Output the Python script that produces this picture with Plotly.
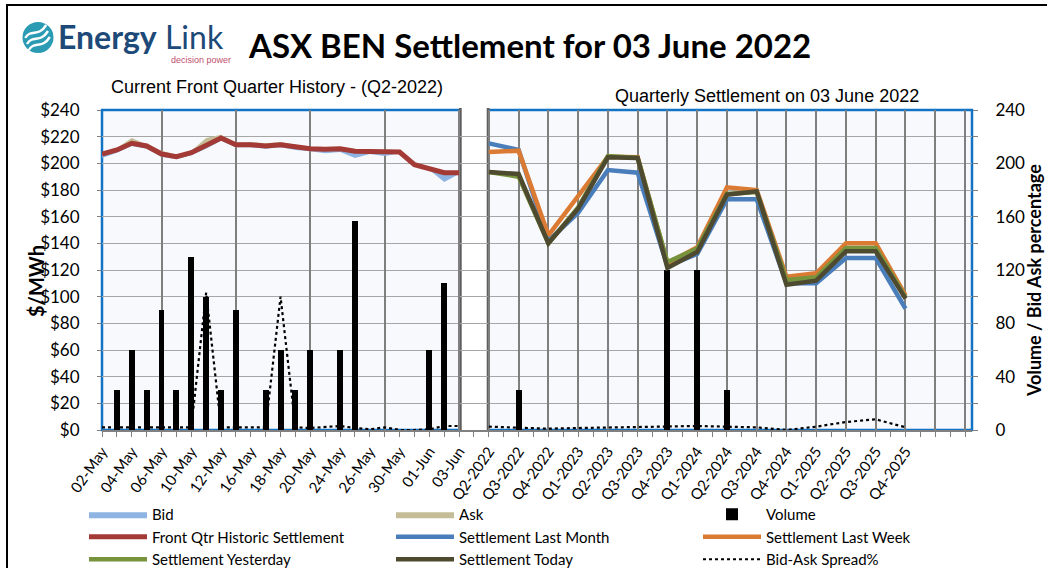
import plotly.graph_objects as go

# ---------------- data ----------------
day_labels = ['02-May', '03-May', '04-May', '05-May', '06-May', '09-May', '10-May', '11-May',
              '12-May', '13-May', '16-May', '17-May', '18-May', '19-May', '20-May', '23-May',
              '24-May', '25-May', '26-May', '27-May', '30-May', '31-May', '01-Jun', '02-Jun', '03-Jun']
quarter_labels = ['Q2-2022', 'Q3-2022', 'Q4-2022', 'Q1-2023', 'Q2-2023', 'Q3-2023', 'Q4-2023',
                  'Q1-2024', 'Q2-2024', 'Q3-2024', 'Q4-2024', 'Q1-2025', 'Q2-2025', 'Q3-2025', 'Q4-2025']

front_qtr_settlement = [207, 210, 215, 213, 207, 205, 208, 213, 219, 214, 214, 213, 214, 212.5,
                        211, 210.5, 211, 209, 209, 208.5, 208.5, 199, 196, 193, 193]
bid = [204, 208, 213, 211, 205, 203, 206, 211, 217, 212, 212, 211, 212, 210,
       209, 207.5, 208.5, 204, 207, 205.5, 207.5, 198, 195, 186, 192]
ask = [208.5, 211.5, 219, 214.5, 209.5, 206.5, 209.5, 219, 221.5, 215.5, 216, 215, 216, 214,
       212, 211.5, 212.5, 210, 210, 209.5, 209, 200, 197, 194, 194]
volume_daily = [0, 30, 60, 30, 90, 30, 130, 100, 30, 90, 0, 30, 60, 30,
                60, 0, 60, 157, 0, 0, 0, 0, 60, 110, 0]
spread_daily = [2, 2, 2, 2, 2, 2, 2, 103, 2, 2, 2, 2, 100, 2,
                1.5, 2.5, 3, 1.5, 0.5, 2, 0, 0, 0.5, 3, 3]

settle_last_month = [215, 210, 142, 163, 195, 193, 123, 132, 173, 173, 110, 110, 129, 129, 91]
settle_last_week = [208.5, 209.5, 146, 176, 205, 204.5, 125, 137, 182, 180, 115, 117.5, 140, 140, 101]
settle_yesterday = [193.5, 190, 140, 167, 205.5, 204, 126, 136, 177, 178.5, 112.5, 114.5, 136.5, 136.5, 99.5]
settle_today = [193.5, 192, 140, 166, 204.5, 204, 121.5, 133.5, 176.5, 179, 109, 112, 134, 134, 98.5]
volume_quarterly = [0, 30, 0, 0, 0, 0, 120, 120, 30, 0, 0, 0, 0, 0, 0]
spread_quarterly = [2.5, 2, 1, 1.5, 2, 2, 2.5, 3, 2.5, 2, 0, 2.5, 6, 8, 2]

# ---------------- category positions ----------------
n_days = len(day_labels)
day_x = list(range(n_days))
q_start = n_days + 1
q_x = [q_start + 2 * k for k in range(len(quarter_labels))]
x_last = q_x[-1] + 4
x_range = [0, x_last + 0.47]

tickvals = list(range(0, x_last + 1))
ticktext = []
for v in tickvals:
    if v < n_days and v % 2 == 0:
        ticktext.append(day_labels[v])
    elif v in q_x:
        ticktext.append(quarter_labels[q_x.index(v)])
    else:
        ticktext.append('')
grid_x = [4, 9, 14, 19, 24] + list(range(q_start, x_last + 1, 2))

FONT = 'Lato, Carlito, "Open Sans", sans-serif'

fig = go.Figure()

# Bid / Ask bands around the front quarter settlement
fig.add_trace(go.Scatter(x=day_x, y=front_qtr_settlement, mode='lines', line=dict(width=0),
                         showlegend=False, hoverinfo='skip'))
fig.add_trace(go.Scatter(x=day_x, y=bid, mode='lines', line=dict(width=0), fill='tonexty',
                         fillcolor='#8DB4E2', name='Bid', legendrank=1))
fig.add_trace(go.Scatter(x=day_x, y=front_qtr_settlement, mode='lines', line=dict(width=0),
                         showlegend=False, hoverinfo='skip'))
fig.add_trace(go.Scatter(x=day_x, y=ask, mode='lines', line=dict(width=0), fill='tonexty',
                         fillcolor='#C4BD97', name='Ask', legendrank=2))
fig.add_trace(go.Scatter(x=day_x, y=front_qtr_settlement, mode='lines',
                         line=dict(color='#A33A35', width=5),
                         name='Front Qtr Historic Settlement', legendrank=4))

# Volume bars (secondary axis)
fig.add_trace(go.Bar(x=day_x + q_x, y=volume_daily + volume_quarterly, yaxis='y2',
                     marker=dict(color='black', line=dict(width=0)), width=0.4,
                     name='Volume', legendrank=3))

# Quarterly settlements
for series, name, color, rank in [
    (settle_last_month, 'Settlement Last Month', '#4A7EBB', 5),
    (settle_last_week, 'Settlement Last Week', '#DB7A33', 6),
    (settle_yesterday, 'Settlement Yesterday', '#77933C', 7),
    (settle_today, 'Settlement Today', '#4D4A2F', 8),
]:
    fig.add_trace(go.Scatter(x=q_x, y=series, mode='lines', xaxis='x2',
                             line=dict(color=color, width=4.5), name=name, legendrank=rank))

# Bid-Ask spread %
fig.add_trace(go.Scatter(x=day_x + [n_days] + q_x, y=spread_daily + [None] + spread_quarterly,
                         yaxis='y2', mode='lines', line=dict(color='black', width=2.2, dash='dot'),
                         name='Bid-Ask Spread%', legendrank=9))

# ---------------- decorations (pixel -> paper helpers) ----------------
L, T, W, H = 102, 110, 870, 320


def px(x):
    return (x - L) / W


def py(y):
    return (T + H - y) / H


shapes = []
# outer frame
shapes.append(dict(type='rect', xref='paper', yref='paper', x0=px(7), x1=px(1070),
                   y0=py(5), y1=py(590), line=dict(color='black', width=2), layer='below'))
# plot border
shapes.append(dict(type='rect', xref='paper', yref='paper', x0=0, x1=1, y0=0, y1=1,
                   line=dict(color='#1273C4', width=2.5), layer='between'))
# white separator between daily and quarterly sections
shapes.append(dict(type='rect', xref='x', yref='paper', x0=n_days - 1 + 0.1, x1=q_start - 0.1,
                   y0=-0.004, y1=py(107.5), fillcolor='white', line=dict(width=0), layer='between'))
for gx in (n_days - 1, q_start):
    shapes.append(dict(type='line', xref='x', yref='paper', x0=gx + (0.08 if gx < q_start else -0.05),
                       x1=gx + (0.08 if gx < q_start else -0.05), y0=0, y1=py(108),
                       line=dict(color='#5E5E5E', width=2.8), layer='between'))
# logo circle
shapes.append(dict(type='circle', xref='paper', yref='paper', x0=px(22.5), x1=px(53.5),
                   y0=py(53), y1=py(22), fillcolor='#2A9BB3', line=dict(width=0), layer='above'))


def wave(pts):
    (x0, y0), (c1x, c1y), (c2x, c2y), (x1, y1) = pts
    return 'M{},{} C{},{} {},{} {},{}'.format(px(x0), py(y0), px(c1x), py(c1y),
                                              px(c2x), py(c2y), px(x1), py(y1))


for off in (-6, 0, 6):
    shapes.append(dict(type='path', xref='paper', yref='paper',
                       path=wave([(27 + off * 0.3, 44 + off), (33 + off * 0.3, 34 + off),
                                  (40 + off * 0.3, 44 + off), (48 + off * 0.3, 31 + off)]),
                       line=dict(color='white', width=2.4), layer='above'))

annotations = [
    dict(text='<b>Energy</b> Link', x=px(56), y=py(36), xanchor='left', yanchor='middle',
         font=dict(family=FONT, size=32, color='#1D4A78')),
    dict(text='decision power', x=px(233), y=py(60), xanchor='right', yanchor='middle',
         font=dict(family='"Liberation Sans Narrow", "Liberation Sans", sans-serif', size=9, color='#C0506F')),
    dict(text='<b>ASX BEN Settlement for 03 June 2022</b>', x=px(246), y=py(45),
         xanchor='left', yanchor='middle', font=dict(family=FONT, size=33, color='black')),
    dict(text='Current Front Quarter History - (Q2-2022)', x=px(277), y=py(87),
         xanchor='center', yanchor='middle',
         font=dict(family='"Liberation Sans", Arial, sans-serif', size=18, color='black')),
    dict(text='Quarterly Settlement on 03 June 2022', x=px(767), y=py(96),
         xanchor='center', yanchor='middle',
         font=dict(family='"Liberation Sans", Arial, sans-serif', size=18, color='black')),
    dict(text='<b>$/MWh</b>', x=px(36), y=py(281), xanchor='center', yanchor='middle',
         textangle=-90, font=dict(family=FONT, size=20, color='black')),
    dict(text='<b>Volume / Bid Ask percentage</b>', x=px(1034), y=py(281), xanchor='center',
         yanchor='middle', textangle=-90, font=dict(family=FONT, size=18, color='black')),
]
for a in annotations:
    a.update(xref='paper', yref='paper', showarrow=False)

fig.update_layout(
    width=1047, height=568,
    margin=dict(l=L, r=1047 - L - W, t=T, b=568 - T - H, autoexpand=False),
    paper_bgcolor='white', plot_bgcolor='#F8F9FC',
    font=dict(family=FONT, size=15, color='black'),
    barmode='overlay', bargap=0,
    shapes=shapes, annotations=annotations,
    xaxis=dict(range=x_range, tickmode='array', tickvals=tickvals, ticktext=ticktext,
               tickangle=-55, ticks='outside', ticklen=5, tickcolor='#808080', tickwidth=1,
               showgrid=False, zeroline=False, showline=True, linecolor='#808080', linewidth=1.5,
               tickfont=dict(family=FONT, size=15, color='black')),
    xaxis2=dict(range=x_range, overlaying='x', anchor='y', side='bottom', tickmode='array',
                tickvals=grid_x, showticklabels=False, ticks='', showgrid=True,
                gridcolor='#7F7F7F', gridwidth=1.5, zeroline=False, showline=False),
    yaxis=dict(range=[0, 240], dtick=20, tickprefix='$', ticks='outside', ticklen=4,
               tickcolor='#808080', showgrid=True, gridcolor='#A6A6A6', gridwidth=1,
               zeroline=False, showline=False, ticklabelstandoff=14,
               tickfont=dict(family=FONT, size=17, color='black')),
    yaxis2=dict(range=[0, 240], dtick=40, overlaying='y', side='right', ticks='outside',
                ticklen=5, tickcolor='#808080', showgrid=False, zeroline=False, showline=False,
                minor=dict(dtick=20, ticks='outside', ticklen=5, tickcolor='#808080'),
                ticklabelstandoff=14, tickfont=dict(family=FONT, size=17, color='black')),
    legend=dict(orientation='h', x=px(84), xanchor='left', y=py(498), yanchor='top',
                entrywidth=234, entrywidthmode='pixels', itemwidth=58,
                font=dict(family=FONT, size=15, color='black'), bgcolor='rgba(0,0,0,0)',
                traceorder='normal'),
    showlegend=True,
)

fig.write_html('out.html', config={'displayModeBar': False},
               post_script="document.body.style.margin='0px';"
                           "document.documentElement.style.overflow='hidden';")
